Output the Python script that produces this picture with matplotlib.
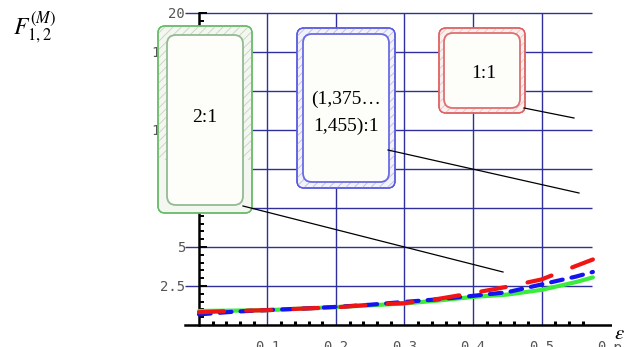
import numpy as np
import matplotlib
matplotlib.use('Agg')
import matplotlib.pyplot as plt
from matplotlib.patches import FancyBboxPatch, Rectangle
from matplotlib.lines import Line2D
from matplotlib.transforms import Affine2D
from matplotlib.ticker import FixedLocator, FixedFormatter, NullFormatter

# ---------------- data ----------------
eps = [0.0, 0.05, 0.1, 0.15, 0.2, 0.25, 0.3, 0.35, 0.4, 0.45, 0.5, 0.525, 0.55, 0.575]
f_green = [0.9, 0.92, 0.95, 1.05, 1.15, 1.26, 1.38, 1.57, 1.8, 1.95, 2.25, 2.5, 2.75, 3.05]
f_blue = [0.68, 0.85, 0.96, 1.05, 1.16, 1.3, 1.48, 1.65, 1.87, 2.1, 2.6, 2.85, 3.1, 3.4]
f_red = [0.82, 0.9, 0.95, 1.05, 1.13, 1.3, 1.4, 1.68, 2.05, 2.45, 2.92, 3.35, 3.78, 4.2]

ytick_vals = [2.5, 5, 7.5, 10, 12.5, 15, 17.5, 20]
ytick_labels = ['2.5', '5', '7.5', '10', '12.5', '15', '17.5', '20']
xtick_vals = [0.1, 0.2, 0.3, 0.4, 0.5, 0.6]
xtick_labels = ['0.1', '0.2', '0.3', '0.4', '0.5', '0.6']
box_labels = ['2:1', '(1,375\u2026\n1,455):1', '1:1']

# ---------------- figure ----------------
W, H = 630, 347
plt.rcParams['mathtext.fontset'] = 'stix'
fig = plt.figure(figsize=(W / 100, H / 100), dpi=100)
fig.patch.set_facecolor('white')

ax = fig.add_axes([185 / W, (H - 325) / H, (612 - 185) / W, (325 - 5) / H])
ax.set_xlim(-0.0204, 0.6029)
ax.set_ylim(0, 20.51)
ax.patch.set_alpha(0)

for s in ['top', 'right']:
    ax.spines[s].set_visible(False)
ax.spines['bottom'].set_linewidth(1.8)
ax.spines['left'].set_position(('data', 0))
ax.spines['left'].set_bounds(0, 20)
ax.spines['left'].set_linewidth(1.8)

tick_font = dict(family='DejaVu Sans Mono', size=10, color='#555555')

ax.xaxis.set_major_locator(FixedLocator(xtick_vals))
ax.xaxis.set_major_formatter(FixedFormatter(xtick_labels))
ax.xaxis.set_minor_locator(FixedLocator(np.arange(0.02, 0.57, 0.02)))
ax.tick_params(axis='x', which='major', length=0, pad=11)
ax.tick_params(axis='x', which='minor', direction='in', length=3, width=2.2, color='black')

ax.yaxis.set_major_locator(FixedLocator(ytick_vals))
ax.yaxis.set_major_formatter(FixedFormatter(ytick_labels))
ax.yaxis.set_minor_locator(FixedLocator(np.arange(0.5, 20.01, 0.5)))
ax.yaxis.set_minor_formatter(NullFormatter())
ax.tick_params(axis='y', which='major', direction='in', length=6, width=1.4, pad=10, color='black')
ax.tick_params(axis='y', which='minor', direction='in', length=3.5, width=1.4, color='black')
for lab in ax.get_xticklabels() + ax.get_yticklabels():
    lab.set_fontfamily(tick_font['family'])
    lab.set_fontsize(tick_font['size'])
    lab.set_color(tick_font['color'])

grid_c = '#2e2e9c'
ax.hlines(ytick_vals, -0.0204, 0.574, color=grid_c, lw=1.0, zorder=1)
ax.vlines(xtick_vals[:-1], 0, 20, color=grid_c, lw=1.0, zorder=1)

plt.rcParams['lines.scale_dashes'] = False
ax.plot(eps, f_green, color='#3cec3c', lw=3.0, zorder=3, solid_capstyle='round')
ax.plot(eps, f_blue, color='#1414f0', lw=3.0, zorder=4, dashes=(8.5, 6.5), dash_capstyle='round')
ax.plot(eps, f_red, color='#f01414', lw=3.0, zorder=5, dashes=(18, 16), dash_capstyle='round')

# ---------------- callouts (figure pixel coordinates, origin top-left) ----------------
T = Affine2D().scale(1, -1).translate(0, H).scale(1 / 100) + fig.dpi_scale_trans
plt.rcParams['hatch.linewidth'] = 0.6


def rbox(x0, y0, x1, y1, r, **kw):
    p = FancyBboxPatch((x0, y0), x1 - x0, y1 - y0,
                       boxstyle=f"round,pad=0,rounding_size={r}",
                       transform=T, **kw)
    fig.add_artist(p)
    return p


def callout(outer, inner, edge, band, hatch_c, inner_edge, hatch_bottom=None):
    o = rbox(*outer, r=7, fc=band, ec=edge, lw=1.0, zorder=10)
    hb = outer[3] if hatch_bottom is None else hatch_bottom
    h = Rectangle((outer[0], outer[1]), outer[2] - outer[0], hb - outer[1],
                  transform=T, fc='none', ec=hatch_c, lw=0, hatch='////', zorder=11)
    fig.add_artist(h)
    h.set_clip_path(o)
    rbox(*outer, r=7, fc='none', ec=edge, lw=1.0, zorder=12)
    rbox(*inner, r=9, fc='#fdfdf9', ec=inner_edge, lw=1.3, zorder=13)


callout((158, 26, 252, 213), (167, 35, 243, 205), '#66bb66', '#f4f7f1', '#c4d4bc', '#92bb92',
        hatch_bottom=160)
callout((297, 28, 395, 188), (303, 34, 389, 182), '#5858e0', '#f2f2fb', '#bcbcde', '#6a6ae4')
callout((439, 28, 525, 113), (444, 33, 520, 108), '#e06060', '#fbf0f0', '#e4c0c0', '#e07070')

box_font = dict(family='Liberation Serif', size=14, color='black', transform=T,
                ha='center', va='center', zorder=20)
fig.text(205, 118, box_labels[0], **box_font)
fig.text(346, 113, box_labels[1], linespacing=1.75, **box_font)
fig.text(484, 73, box_labels[2], **box_font)

for (xa, ya, xb, yb) in [(243, 206, 503, 272), (388, 150, 579, 193), (524, 108, 574, 118)]:
    fig.add_artist(Line2D([xa, xb], [ya, yb], transform=T, color='black', lw=0.9, zorder=15))

fig.text(13, 27, r'$F_{1,2}^{(M)}$', transform=T, ha='left', va='center', fontsize=17)
fig.text(619, 333, r'$\varepsilon$', transform=T, ha='center', va='center', fontsize=15,
         bbox=dict(fc='white', ec='none', pad=1), zorder=20)

fig.savefig('out.png', dpi=100)
